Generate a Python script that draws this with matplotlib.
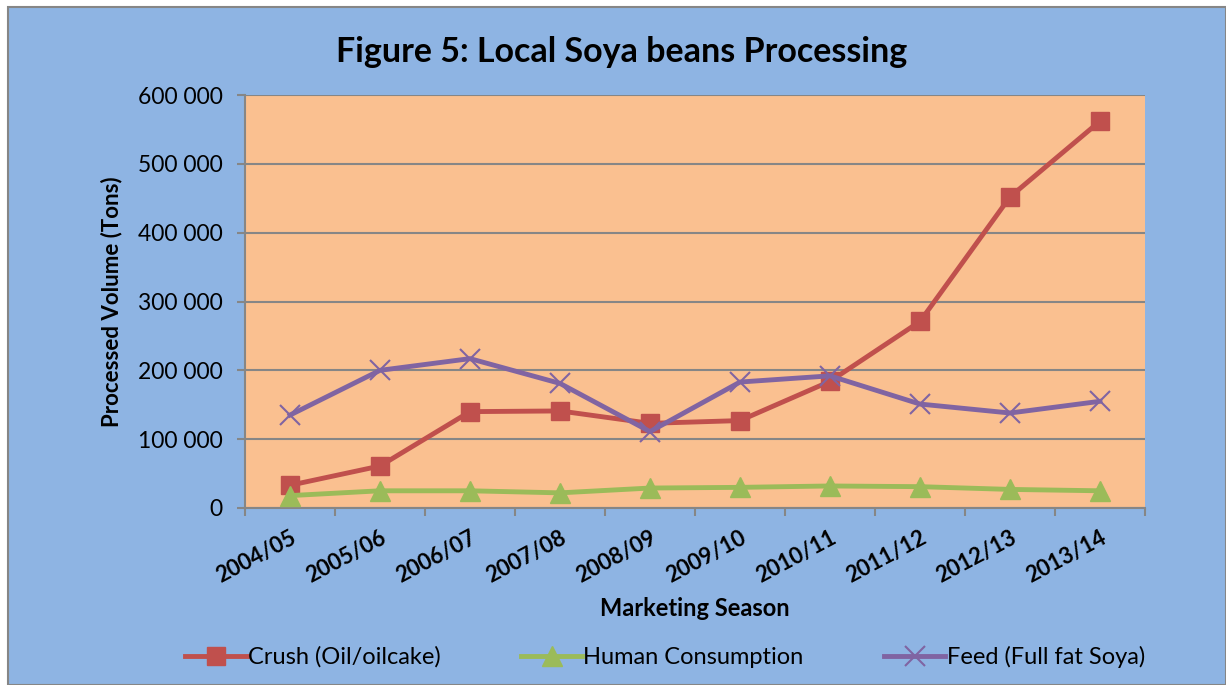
import numpy as np
import matplotlib.pyplot as plt
from matplotlib.patches import Rectangle
from matplotlib.ticker import FuncFormatter
from matplotlib.transforms import ScaledTranslation

seasons = ['2004/05', '2005/06', '2006/07', '2007/08', '2008/09',
           '2009/10', '2010/11', '2011/12', '2012/13', '2013/14']
crush = [33000, 61000, 140000, 141000, 123000, 127000, 184000, 271000, 452000, 562000]
human = [18000, 25000, 25000, 22000, 29000, 30000, 32000, 31000, 27000, 25000]
feed = [135000, 200000, 217000, 181000, 111000, 183000, 192000, 151000, 138000, 155000]

plt.rcParams['font.family'] = ['Lato', 'DejaVu Sans']

fig = plt.figure(figsize=(12.26, 6.85), dpi=100, facecolor='white')
# blue chart area with grey border
fig.patches.append(Rectangle((8 / 1226, 0), 1 - 8 / 1226, 1 - 7 / 685,
                             transform=fig.transFigure, facecolor='#8EB4E3',
                             edgecolor='#868686', linewidth=1.5, zorder=-1))

ax = fig.add_axes([245 / 1226, 1 - 508 / 685, 900 / 1226, 413 / 685])
ax.set_facecolor('#FAC090')

x = np.arange(len(seasons))
ax.plot(x, crush, color='#C0504D', lw=3.5, marker='s', ms=13, mec='#C0504D',
        label='Crush (Oil/oilcake)', zorder=3)
ax.plot(x, human, color='#9BBB59', lw=3.5, marker='^', ms=14, mec='#9BBB59',
        label='Human Consumption', zorder=3)
ax.plot(x, feed, color='#8064A2', lw=3.5, marker='x', ms=14, mew=1.5,
        label='Feed (Full fat Soya)', zorder=4)

ax.set_xlim(-0.5, len(seasons) - 0.5)
ax.set_ylim(0, 600000)
ax.set_yticks(np.arange(0, 600001, 100000))
ax.yaxis.set_major_formatter(FuncFormatter(lambda v, p: f'{int(v):,}'.replace(',', ' ')))
ax.grid(axis='y', color='#868686', lw=1.5)
ax.set_axisbelow(True)

# ticks between categories, labels at centres
ax.set_xticks(np.arange(-0.5, len(seasons), 1))
ax.set_xticklabels([])
ax.set_xticks(x, minor=True)
ax.set_xticklabels(seasons, minor=True, rotation=28, ha='right', rotation_mode='anchor',
                   fontsize=16, fontweight='bold')
shift = ScaledTranslation(-6 / 100, 0, fig.dpi_scale_trans)
for lbl in ax.get_xticklabels(minor=True):
    lbl.set_transform(lbl.get_transform() + shift)
ax.tick_params(axis='x', which='minor', length=0, pad=14)
ax.tick_params(axis='x', which='major', length=6, color='#868686', width=1.5)
ax.tick_params(axis='y', length=6, color='#868686', width=1.5, labelsize=16.5, pad=10)

for s in ['top', 'right']:
    ax.spines[s].set_visible(False)
for s in ['left', 'bottom']:
    ax.spines[s].set_color('#868686')
    ax.spines[s].set_linewidth(1.5)

ax.set_xlabel('Marketing Season', fontsize=17, fontweight='bold', va='center')
ax.xaxis.set_label_coords(0.5, (508 - 608) / 413)
ax.set_ylabel('Processed Volume (Tons)', fontsize=16, fontweight='bold', va='center')
ax.yaxis.set_label_coords((112 - 245) / 900, 0.5)
fig.text(622 / 1226, 1 - 52 / 685, 'Figure 5: Local Soya beans Processing', ha='center',
         va='center', fontsize=24.5, fontweight='bold')

fig.legend(loc='center', bbox_to_anchor=(665 / 1226, 1 - 657 / 685), ncol=3, frameon=False,
           fontsize=17, columnspacing=3.4, handlelength=2.6, handletextpad=0.05)

fig.savefig('out.png', dpi=100, facecolor=fig.get_facecolor())
